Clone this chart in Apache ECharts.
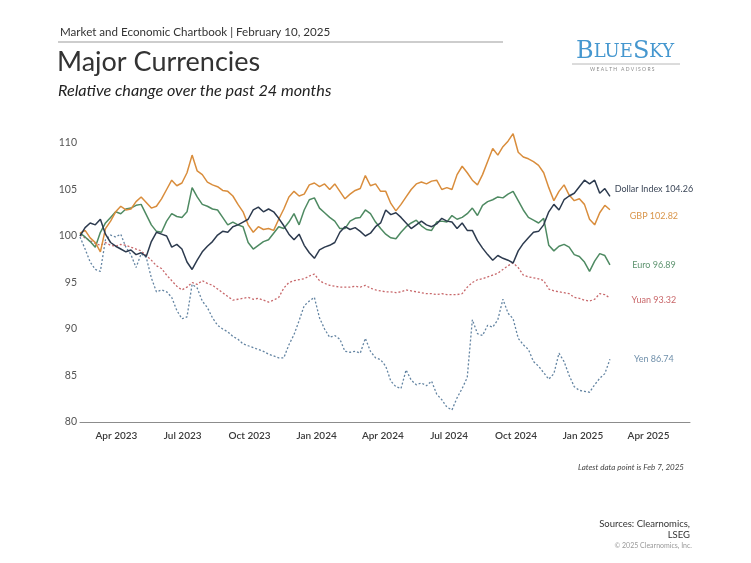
<!DOCTYPE html>
<html>
<head>
<meta charset="utf-8">
<script src="https://cdn.jsdelivr.net/npm/echarts@6/dist/echarts.min.js"></script>
<style>
  html, body { margin: 0; padding: 0; background: #fff; }
  #chart { width: 751px; height: 563px; }
</style>
</head>
<body>
<div id="chart"></div>
<script>
// Weekly observations (Fridays) from Feb 10, 2023 to Feb 7, 2025
const startDate = [2023, 1, 10];
const weekCount = 105;

const dollarIndex = [100.0,100.9,101.4,101.2,101.8,100.2,99.3,98.9,98.6,98.3,98.5,98.0,98.2,97.8,99.4,100.4,100.2,100.0,98.8,99.1,98.6,97.2,96.4,97.4,98.3,98.9,99.4,100.1,100.5,100.4,101.0,101.2,101.5,101.8,102.8,103.1,102.6,102.9,102.6,101.9,101.1,100.2,99.6,100.2,99.0,98.2,97.6,98.5,98.8,99.0,99.3,100.4,101.0,100.7,100.9,100.5,100.0,100.3,101.0,101.4,102.8,102.3,102.5,102.0,101.4,100.8,101.2,101.6,101.2,101.0,101.3,101.9,101.6,101.5,100.8,101.4,100.6,100.6,99.5,98.7,98.0,97.4,97.9,97.6,97.4,97.1,98.4,99.2,99.8,100.4,100.5,101.2,102.6,103.4,102.8,103.9,104.3,104.6,105.3,106.0,105.6,106.0,104.6,105.1,104.26];
const gbp = [100.3,100.6,99.8,99.3,98.3,100.8,101.6,102.6,103.2,102.8,102.9,103.7,104.2,103.6,103.0,103.2,104.0,105.0,106.0,105.4,105.7,106.8,108.7,107.0,106.6,105.8,105.5,105.3,104.9,104.8,104.3,103.4,102.6,101.2,100.4,101.0,100.7,100.8,100.6,101.8,102.9,104.2,104.8,104.3,104.5,105.5,105.7,105.3,105.6,105.0,105.6,104.8,104.0,104.5,104.9,105.1,106.5,105.4,105.6,104.8,104.8,103.5,102.7,103.4,104.2,105.0,105.6,105.8,105.6,105.9,106.0,105.0,105.2,105.0,106.6,107.5,106.8,106.0,105.5,106.6,108.0,109.4,108.7,109.6,110.2,111.0,109.0,108.5,108.3,108.0,107.6,106.8,105.2,103.8,104.8,105.5,104.4,103.8,104.0,103.4,101.8,101.2,102.5,103.3,102.82];
const euro = [100.3,99.9,99.4,98.8,100.4,101.4,102.0,102.6,102.4,102.9,103.0,103.3,103.4,102.3,101.2,100.5,100.4,101.6,102.4,102.1,102.0,102.6,105.2,104.2,103.4,103.2,102.9,102.8,102.0,101.2,101.5,101.2,101.0,99.3,98.6,99.0,99.4,99.6,100.3,101.0,100.8,101.5,102.4,101.2,102.8,103.9,104.1,103.0,102.5,102.0,101.6,100.8,100.8,101.6,101.9,102.0,102.8,102.4,101.5,100.8,100.2,99.8,99.7,100.4,101.0,101.4,101.7,101.1,100.7,100.6,101.5,101.6,101.5,102.2,101.8,102.0,102.4,103.0,102.2,103.3,103.7,103.9,104.2,104.1,104.5,104.8,103.8,102.8,102.0,101.7,101.4,101.9,99.0,98.4,98.9,99.1,98.8,98.0,97.8,97.2,96.2,97.3,98.1,97.9,96.89];
const yuan = [100.1,99.8,99.5,99.2,99.0,99.3,99.0,98.9,99.1,99.0,98.8,98.6,98.4,97.9,97.4,96.8,96.5,95.8,95.2,94.6,94.2,94.5,95.0,94.8,95.2,94.9,94.7,94.3,93.9,93.5,93.1,93.2,93.3,93.4,93.2,93.3,93.1,92.9,93.1,93.4,94.4,95.0,95.2,95.3,95.4,95.7,95.9,95.2,94.9,94.7,94.6,94.5,94.5,94.5,94.6,94.5,94.7,94.4,94.2,94.1,94.0,94.0,93.9,94.0,94.2,94.1,94.0,93.9,93.8,93.8,93.7,93.8,93.7,93.7,93.7,93.8,94.5,95.0,95.3,95.4,95.6,95.8,96.0,96.4,96.8,97.1,96.6,95.8,95.6,95.5,95.4,95.2,94.3,94.1,94.0,93.9,93.8,93.4,93.3,93.1,93.0,93.2,93.8,93.7,93.32];
const yen = [99.9,98.6,97.2,96.4,96.2,99.6,100.1,99.9,100.2,98.8,98.0,96.6,98.1,97.7,95.5,94.0,94.2,94.0,93.4,92.0,91.1,91.3,94.8,94.4,93.0,92.3,91.2,90.4,90.0,89.7,89.2,88.9,88.4,88.2,88.0,87.8,87.6,87.3,87.1,86.9,86.9,88.3,89.4,90.9,92.5,93.0,93.4,91.2,90.0,89.1,89.3,88.9,87.6,87.5,87.6,87.4,89.0,87.6,86.9,86.7,86.0,84.4,83.8,83.6,85.6,84.5,84.0,84.2,83.9,84.4,83.0,82.4,81.6,81.3,82.6,83.6,84.8,91.0,89.5,89.3,90.4,90.2,91.0,93.2,91.7,91.1,89.0,88.3,87.8,86.5,86.0,85.3,84.6,85.2,87.4,86.5,85.0,83.8,83.4,83.3,83.2,84.0,84.7,85.2,86.74];

const seriesNames = ['Dollar Index', 'GBP', 'Euro', 'Yuan', 'Yen'];
const yTicks = [80, 85, 90, 95, 100, 105, 110];
const xTickMonths = [[2023,3],[2023,6],[2023,9],[2024,0],[2024,3],[2024,6],[2024,9],[2025,0],[2025,3]];
const monthNames = ['Jan','Feb','Mar','Apr','May','Jun','Jul','Aug','Sep','Oct','Nov','Dec'];

const dates = [];
for (let k = 0; k < weekCount; k++) dates.push(Date.UTC(startDate[0], startDate[1], startDate[2] + 7 * k));
const pair = arr => arr.map((v, i) => [dates[i], v]);

const colors = ['#2c3a4e', '#d98d3c', '#4e8a62', '#c8686b', '#6384a2'];
const labelColors = ['#3c4758', '#d9954a', '#5e9470', '#c9676a', '#7090ab'];
const labelOffsets = [[44, -7], [44, 6], [44, 0], [44, 2], [44, 0]];
const dataSets = [dollarIndex, gbp, euro, yuan, yen];

const FONT = 'Lato, "Noto Sans", sans-serif';

const chart = echarts.init(document.getElementById('chart'), null, { renderer: 'canvas' });
chart.setOption({
  backgroundColor: '#fff',
  animation: false,
  textStyle: { fontFamily: FONT },
  grid: { left: 80, right: 61, top: 143, bottom: 141, containLabel: false },
  xAxis: {
    type: 'value',
    min: Date.UTC(2023, 1, 10),
    max: Date.UTC(2025, 4, 28),
    axisLine: { show: true, lineStyle: { color: '#8c8c8c', width: 1 } },
    axisTick: { show: false },
    splitLine: { show: false },
    axisLabel: {
      customValues: xTickMonths.map(m => Date.UTC(m[0], m[1], 1)),
      formatter: v => { const d = new Date(v); return monthNames[d.getUTCMonth()] + ' ' + d.getUTCFullYear(); },
      color: '#3a3a3a', fontSize: 10, fontWeight: 600, margin: 9, fontFamily: FONT
    }
  },
  yAxis: {
    type: 'value', min: 80, max: 110, interval: 5,
    axisLine: { show: false }, axisTick: { show: false }, splitLine: { show: false },
    axisLabel: { color: '#555', fontSize: 10.5, margin: 3, fontFamily: FONT }
  },
  series: dataSets.map((arr, i) => ({
    name: seriesNames[i],
    type: 'line',
    data: pair(arr),
    showSymbol: false,
    symbol: 'none',
    clip: false,
    lineStyle: { color: colors[i], width: i >= 3 ? 1.3 : 1.5, type: i >= 3 ? [2, 2] : 'solid' },
    itemStyle: { color: colors[i] },
    endLabel: {
      show: true,
      formatter: p => p.seriesName + ' ' + p.value[1].toFixed(2),
      color: labelColors[i], fontSize: 9, fontFamily: FONT,
      align: 'center', distance: 0, offset: labelOffsets[i]
    },
    z: 5 - i
  })),
  graphic: [
    { type: 'text', left: 60, top: 26, style: { text: 'Market and Economic Chartbook | February 10, 2025', fill: '#333', font: '11.6px ' + FONT } },
    { type: 'line', shape: { x1: 58, y1: 42, x2: 503, y2: 42 }, style: { stroke: '#bdbdbd', lineWidth: 1.5 } },
    { type: 'text', left: 57, top: 49, style: { text: 'Major Currencies', fill: '#333', font: '400 27px ' + FONT } },
    { type: 'text', left: 58, top: 83, style: { text: 'Relative change over the past 24 months', fill: '#222', font: 'italic 16.2px ' + FONT } },
    { type: 'text', left: 576, top: 40, style: { text: '{b|B}{s|LUE}{b|S}{s|KY}', rich: { b: { fill: '#4597cf', font: '24px "DejaVu Serif", serif' }, s: { fill: '#4597cf', font: '18px "DejaVu Serif", serif' } } } },
    { type: 'line', shape: { x1: 572, y1: 64, x2: 680, y2: 64 }, style: { stroke: '#b8b8b8', lineWidth: 1 } },
    { type: 'text', left: 590, top: 67, style: { text: 'W E A L T H   A D V I S O R S', fill: '#8a8a8a', font: '5px ' + FONT } },
    { type: 'text', right: 67, top: 463, style: { text: 'Latest data point is Feb 7, 2025', fill: '#444', font: 'italic 8px ' + FONT } },
    { type: 'text', right: 61, top: 519, style: { text: 'Sources: Clearnomics,', fill: '#333', font: '9.5px ' + FONT } },
    { type: 'text', right: 61, top: 530, style: { text: 'LSEG', fill: '#333', font: '9.5px ' + FONT } },
    { type: 'text', right: 59, top: 542, style: { text: '© 2025 Clearnomics, Inc.', fill: '#999', font: '7px ' + FONT } }
  ]
});
</script>
</body>
</html>
